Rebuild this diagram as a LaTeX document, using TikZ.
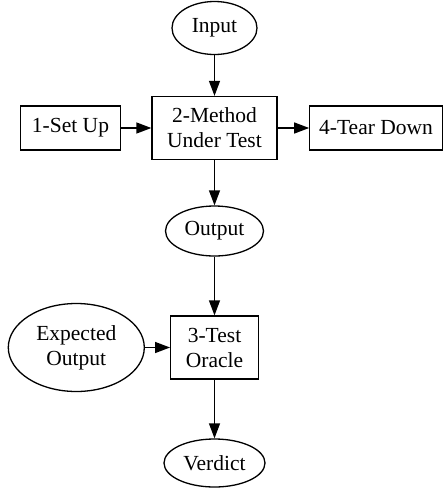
\documentclass[tikz,border=0pt]{standalone}
\usepackage{fontspec}
\setmainfont{Liberation Serif}
\newfontfamily\graphfont{Liberation Serif}
\usetikzlibrary{shapes.geometric,arrows.meta}
\begin{document}
\begin{tikzpicture}[x=1pt,y=-1pt,
  every node/.style={font=\graphfont\fontsize{21.5}{25}\selectfont, inner sep=0pt, align=center, line width=1.3pt, draw},
  boxnode/.style={rectangle},
  ovalnode/.style={ellipse},
  flow/.style={line width=1.3pt, -{Triangle[length=15pt,width=11pt]}}]
  \useasboundingbox (0,0) rectangle (443,488);
  % nodes
  \node[ovalnode, minimum width=85pt, minimum height=53pt] (in) at (214.5,28) {Input};
  \node[boxnode, minimum width=100pt, minimum height=44pt] (setup) at (70.5,128) {1-Set Up};
  \node[boxnode, minimum width=125pt, minimum height=63pt] (mut) at (214.5,128) {2-Method\\Under Test};
  \node[boxnode, minimum width=132.4pt, minimum height=44pt] (tear) at (376,128) {4-Tear Down};
  \node[ovalnode, minimum width=98pt, minimum height=50pt] (out) at (214.5,231) {Output};
  \node[boxnode, minimum width=87.6pt, minimum height=63pt] (oracle) at (214.5,347.5) {3-Test\\Oracle};
  \node[ovalnode, minimum width=136pt, minimum height=88pt] (exp) at (76.3,347.5) {Expected\\Output};
  \node[ovalnode, minimum width=101pt, minimum height=48pt] (verd) at (214.5,463) {Verdict};
  % connectors
  \draw[flow] (in) -- (mut);
  \draw[flow] (setup) -- (mut);
  \draw[flow] (mut) -- (tear);
  \draw[flow] (mut) -- (out);
  \draw[flow] (out) -- (oracle);
  \draw[flow] (exp) -- (oracle);
  \draw[flow] (oracle) -- (verd);
\end{tikzpicture}
\end{document}
